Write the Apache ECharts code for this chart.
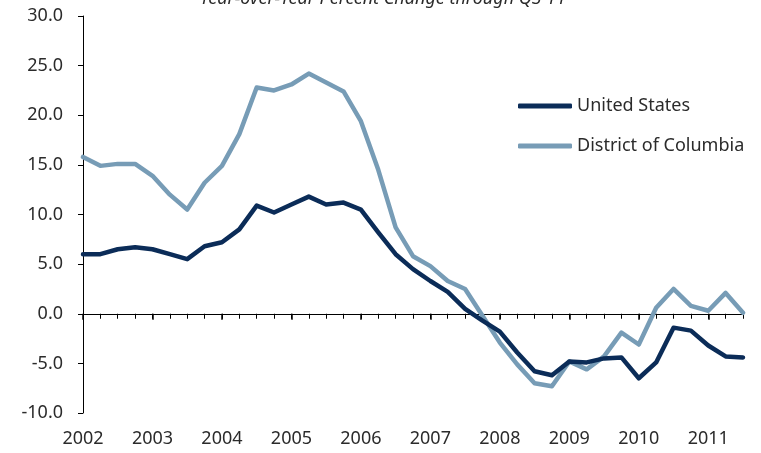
<!DOCTYPE html>
<html>
<head>
<meta charset="utf-8">
<script src="https://cdn.jsdelivr.net/npm/echarts@6/dist/echarts.min.js"></script>
<style>
  html, body { margin: 0; padding: 0; background: #fff; }
  #chart { width: 761px; height: 453px; }
</style>
</head>
<body>
<div id="chart"></div>
<script>
// Quarterly periods, 2002 Q1 through 2011 Q3
const quarters = [
  '2002Q1','2002Q2','2002Q3','2002Q4',
  '2003Q1','2003Q2','2003Q3','2003Q4',
  '2004Q1','2004Q2','2004Q3','2004Q4',
  '2005Q1','2005Q2','2005Q3','2005Q4',
  '2006Q1','2006Q2','2006Q3','2006Q4',
  '2007Q1','2007Q2','2007Q3','2007Q4',
  '2008Q1','2008Q2','2008Q3','2008Q4',
  '2009Q1','2009Q2','2009Q3','2009Q4',
  '2010Q1','2010Q2','2010Q3','2010Q4',
  '2011Q1','2011Q2','2011Q3'
];

// Year-over-year percent change in house prices
const unitedStates = [
  6.0, 6.0, 6.5, 6.7, 6.5, 6.0, 5.5, 6.8,
  7.2, 8.5, 10.9, 10.2, 11.0, 11.8, 11.0, 11.2,
  10.5, 8.2, 6.0, 4.5, 3.3, 2.2, 0.5, -0.7,
  -1.8, -3.9, -5.8, -6.2, -4.8, -4.9, -4.5, -4.4,
  -6.5, -4.9, -1.4, -1.7, -3.2, -4.3, -4.4
];
const districtOfColumbia = [
  15.8, 14.9, 15.1, 15.1, 13.9, 12.0, 10.5, 13.2,
  14.9, 18.1, 22.8, 22.5, 23.1, 24.2, 23.3, 22.4,
  19.4, 14.5, 8.7, 5.8, 4.8, 3.3, 2.5, -0.2,
  -2.9, -5.1, -7.0, -7.3, -4.8, -5.6, -4.3, -1.9,
  -3.1, 0.6, 2.5, 0.8, 0.3, 2.1, 0.1
];

// Value axis ticks
const yTicks = [-10, -5, 0, 5, 10, 15, 20, 25, 30];

const seriesNames = ['United States', 'District of Columbia'];
const seriesColors = ['#0b2c58', '#779cb6'];
const textColor = '#2b2b2b';
const fontFamily = '"Noto Sans", "Open Sans", sans-serif';

const chart = echarts.init(document.getElementById('chart'), null, { renderer: 'canvas' });

chart.setOption({
  animation: false,
  backgroundColor: '#ffffff',
  textStyle: { fontFamily: fontFamily },
  title: {
    text: 'Year-over-Year Percent Change through Q3 11',
    left: 195,
    top: -15,
    textStyle: {
      fontFamily: fontFamily,
      fontSize: 18,
      fontStyle: 'italic',
      fontWeight: 'normal',
      color: textColor
    }
  },
  legend: {
    data: seriesNames,
    orient: 'vertical',
    left: 513,
    top: 92,
    itemWidth: 54,
    itemHeight: 5,
    itemGap: 22,
    icon: 'roundRect',
    textStyle: { fontFamily: fontFamily, fontSize: 18, color: textColor }
  },
  grid: { left: 83, right: 18, top: 16, bottom: 40, containLabel: false },
  xAxis: [
    {
      // quarterly ticks on the zero line
      type: 'category',
      data: quarters,
      boundaryGap: false,
      axisLine: { onZero: true, lineStyle: { color: '#000', width: 1 } },
      axisTick: { show: true, interval: 0, length: 5, lineStyle: { color: '#000', width: 1 } },
      axisLabel: { show: false },
      splitLine: { show: false }
    },
    {
      // heavier year ticks on the zero line
      type: 'category',
      data: quarters,
      boundaryGap: false,
      position: 'bottom',
      axisLine: { show: false, onZero: true, onZeroAxisIndex: 0 },
      axisTick: { show: true, interval: 3, length: 6, lineStyle: { color: '#000', width: 1.5 } },
      axisLabel: { show: false },
      splitLine: { show: false }
    },
    {
      // year labels along the bottom of the plot
      type: 'category',
      data: quarters,
      boundaryGap: false,
      position: 'bottom',
      axisLine: { show: false, onZero: false },
      axisTick: { show: false },
      axisLabel: {
        interval: 3,
        margin: 17,
        fontSize: 18,
        color: textColor,
        fontFamily: fontFamily,
        formatter: (v) => v.slice(0, 4)
      },
      splitLine: { show: false }
    }
  ],
  yAxis: {
    type: 'value',
    min: yTicks[0],
    max: yTicks[yTicks.length - 1],
    interval: 5,
    axisLine: { show: true, lineStyle: { color: '#000', width: 1 } },
    axisTick: { show: true, length: 5, lineStyle: { color: '#000', width: 1 } },
    axisLabel: {
      margin: 20,
      fontSize: 18,
      color: textColor,
      fontFamily: fontFamily,
      formatter: (v) => v.toFixed(1)
    },
    splitLine: { show: false }
  },
  series: seriesNames.map((name, i) => ({
    name: name,
    type: 'line',
    xAxisIndex: 0,
    data: i === 0 ? unitedStates : districtOfColumbia,
    showSymbol: false,
    symbol: 'none',
    color: seriesColors[i],
    lineStyle: { width: 4.5, color: seriesColors[i], join: 'round', cap: 'round' },
    z: i === 0 ? 3 : 2
  }))
});
</script>
</body>
</html>
